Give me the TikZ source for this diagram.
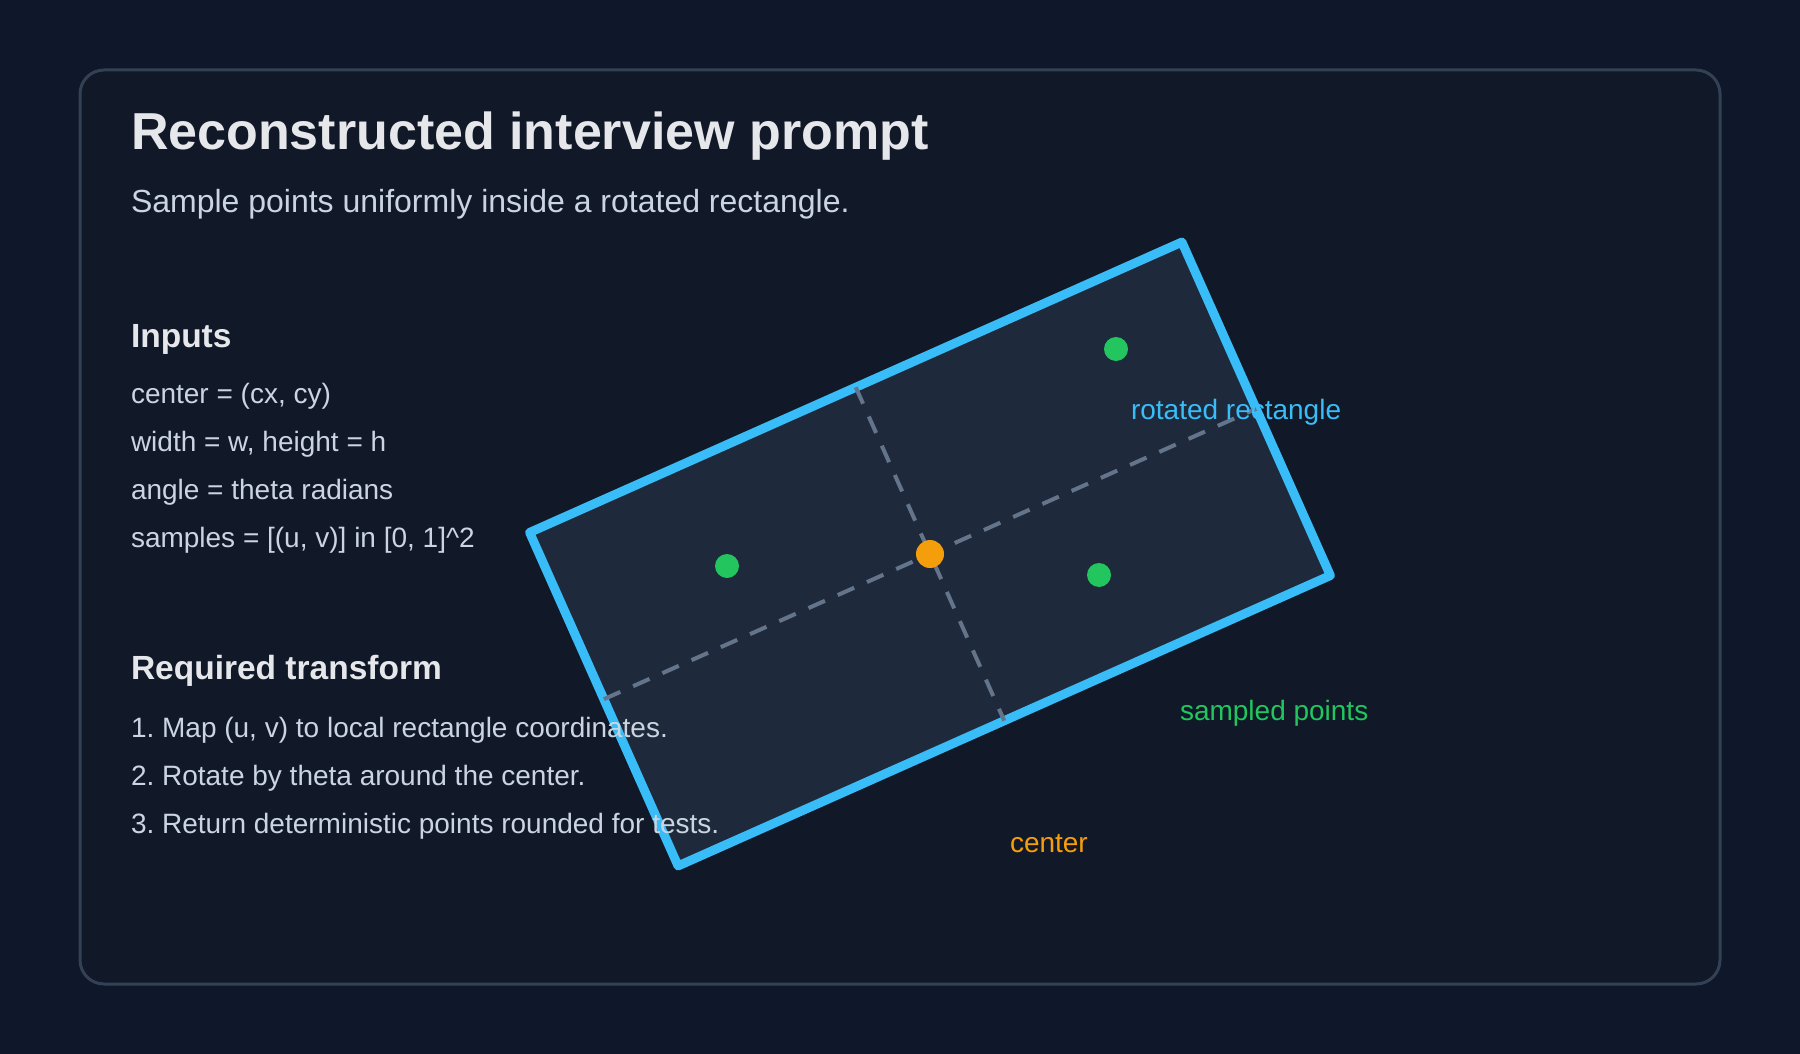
\documentclass[tikz,border=0pt]{standalone}
\usepackage{fontspec}
\setmainfont{Liberation Sans}
\frenchspacing
\definecolor{bg}{HTML}{0F172A}
\definecolor{card}{HTML}{111827}
\definecolor{cardline}{HTML}{334155}
\definecolor{titlec}{HTML}{E5E7EB}
\definecolor{bodyc}{HTML}{CBD5E1}
\definecolor{rectfill}{HTML}{1E293B}
\definecolor{rectline}{HTML}{38BDF8}
\definecolor{axisc}{HTML}{64748B}
\definecolor{greenc}{HTML}{22C55E}
\definecolor{orangec}{HTML}{F59E0B}
\begin{document}
\frenchspacing
\begin{tikzpicture}[x=0.5pt,y=-0.5pt,
  txt/.style={anchor=base west, inner sep=0pt, outer sep=0pt},
  titletxt/.style={txt, text=titlec, font=\fontsize{26}{31}\selectfont\bfseries},
  subtxt/.style={txt, text=bodyc, font=\fontsize{16}{19}\selectfont},
  headtxt/.style={txt, text=titlec, font=\fontsize{16.75}{20}\selectfont\bfseries},
  bodytxt/.style={txt, text=bodyc, font=\fontsize{14}{17}\selectfont},
  labeltxt/.style={txt, font=\fontsize{14}{17}\selectfont},
  axisline/.style={draw=axisc, line width=2pt, dash pattern=on 9pt off 7pt},
  sampledot/.style={circle, fill=greenc, minimum size=12pt, inner sep=0pt},
  centerdot/.style={circle, fill=orangec, minimum size=14pt, inner sep=0pt}]

\fill[bg] (0,0) rectangle (1800,1054);
\useasboundingbox (0,0) rectangle (1800,1054);
\draw[cardline, fill=card, line width=1.5pt, rounded corners=12pt] (80,70) rectangle (1720,984);

% rotated rectangle
\node[rotate=24, minimum width=357pt, minimum height=182.5pt, inner sep=0pt, outer sep=0pt, fill=rectfill] (rect) at (930,554) {};
\draw[rectline, line width=4.5pt, line join=round] (rect.north west) -- (rect.north east) -- (rect.south east) -- (rect.south west) -- cycle;
\draw[axisline] (rect.west) -- (rect.east);
\draw[axisline] (rect.north) -- (rect.south);

\node[sampledot] (p1) at (1116,349) {};
\node[sampledot] (p2) at (727,566) {};
\node[sampledot] (p3) at (1099,575) {};
\node[centerdot] (c) at (930,554) {};

% texts
\node[titletxt] (title) at (131,149) {Reconstructed interview prompt};
\node[subtxt] (sub) at (131,213) {Sample points uniformly inside a rotated rectangle.};

\node[headtxt] (inputs) at (131,347) {Inputs};
\node[bodytxt] (i1) at (131,403) {center = (cx, cy)};
\node[bodytxt] (i2) at (131,451) {width = w, height = h};
\node[bodytxt] (i3) at (131,499) {angle = theta radians};
\node[bodytxt] (i4) at (131,547) {samples = [(u, v)] in [0, 1]\textasciicircum 2};

\node[headtxt] (req) at (131,679) {Required transform};
\node[bodytxt] (r1) at (131,737) {1. Map (u, v) to local rectangle coordinates.};
\node[bodytxt] (r2) at (131,785) {2. Rotate by theta around the center.};
\node[bodytxt] (r3) at (131,833) {3. Return deterministic points rounded for tests.};

\node[labeltxt, text=rectline] (lrect) at (1131,419) {rotated rectangle};
\node[labeltxt, text=greenc] (lpts) at (1180,720) {sampled points};
\node[labeltxt, text=orangec] (lc) at (1010,852) {center};
\end{tikzpicture}
\end{document}
